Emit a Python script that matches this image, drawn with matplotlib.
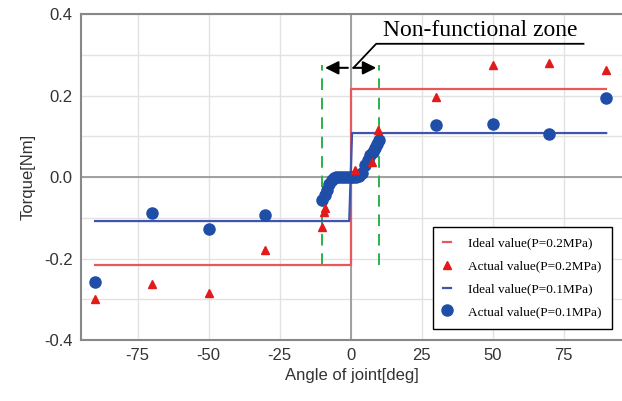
import matplotlib.pyplot as plt
import numpy as np

plt.rcParams["axes.unicode_minus"] = False
plt.rcParams["font.family"] = "Liberation Sans"

# ideal step lines
ideal_x_02 = [-90, 0, 0, 90]
ideal_y_02 = [-0.215, -0.215, 0.215, 0.215]
ideal_x_01 = [-90, -0.5, 0.5, 90]
ideal_y_01 = [-0.108, -0.108, 0.108, 0.108]

# measured points, P=0.2MPa
act_x_02 = [-90, -70, -50, -30, -10, -9.4, -9, 1.5, 7.5, 9.7, 30, 50, 70, 90]
act_y_02 = [-0.30, -0.263, -0.285, -0.18, -0.123, -0.086, -0.075, 0.017, 0.037, 0.115,
            0.196, 0.275, 0.28, 0.263]

# measured points, P=0.1MPa
act_x_01 = [-90, -70, -50, -30, -10, -9.2, -8.3, -7.5, -6.6, -6, -5, -4, -3, -2, -1,
            0, 1, 2, 3, 4, 5, 6, 6.8, 7.8, 8.5, 9.2, 10, 30, 50, 70, 90]
act_y_01 = [-0.258, -0.089, -0.128, -0.094, -0.056, -0.045, -0.032, -0.018, -0.007,
            -0.002, 0, 0, 0, 0, 0, 0, 0, 0, 0.002, 0.01, 0.03, 0.042, 0.054, 0.062,
            0.072, 0.08, 0.09, 0.128, 0.13, 0.105, 0.194]

zone = [-10, 10]

fig = plt.figure(figsize=(6.22, 4.01), dpi=100)
ax = fig.add_axes([0.130, 0.152, 0.872, 0.813])

ax.plot(ideal_x_02, ideal_y_02, color="#e8575a", lw=1.6, label="Ideal value(P=0.2MPa)", zorder=3)
ax.plot(act_x_02, act_y_02, "^", color="#e31a1c", ms=6, ls="none", label="Actual value(P=0.2MPa)", zorder=5)
ax.plot(ideal_x_01, ideal_y_01, color="#3d55b0", lw=1.6, label="Ideal value(P=0.1MPa)", zorder=3)
ax.plot(act_x_01, act_y_01, "o", color="#1f4ea8", ms=8, ls="none", label="Actual value(P=0.1MPa)", zorder=4)

for xz in zone:
    ax.plot([xz, xz], [-0.216, 0.275], color="#2bb24c", lw=1.4, ls=(0, (6, 4)), zorder=2)

for xz in zone:
    ax.annotate("", xy=(xz, 0.268), xytext=(0, 0.268),
                arrowprops=dict(arrowstyle="-|>", color="black", lw=1.5, mutation_scale=20))
ax.plot([1, 9, 82], [0.268, 0.327, 0.327], color="black", lw=1.3, zorder=6)
ax.text(45.5, 0.333, "Non-functional zone", family="Liberation Serif", fontsize=17,
        ha="center", va="bottom")

ax.axvline(0, color="#999999", lw=1.3, zorder=1)
ax.axhline(0, color="#999999", lw=1.3, zorder=1)

ax.set_xlim(-95, 96)
ax.set_ylim(-0.4, 0.4)
ax.set_xticks([-75, -50, -25, 0, 25, 50, 75])
ax.set_yticks(np.arange(-0.4, 0.41, 0.1))
ax.set_yticklabels(["-0.4", "", "-0.2", "", "0.0", "", "0.2", "", "0.4"])
ax.grid(True, color="#e2e2e2", lw=1)
ax.set_axisbelow(True)
ax.tick_params(length=0, labelsize=12, colors="#333333", pad=6)
for s in ax.spines.values():
    s.set_color("#888888")
    s.set_linewidth(1.5)
ax.spines["right"].set_visible(False)

ax.set_xlabel("Angle of joint[deg]", fontsize=12, color="#333333", labelpad=3)
ax.set_ylabel("Torque[Nm]", fontsize=12, color="#333333", labelpad=6)

leg = ax.legend(loc="lower right", bbox_to_anchor=(0.98, 0.035),
                prop={"family": "Liberation Serif", "size": 9.5},
                fancybox=False, edgecolor="black", framealpha=1, handlelength=0.6,
                borderpad=0.8, labelspacing=0.8, handletextpad=1.3, borderaxespad=0)
leg.get_frame().set_linewidth(1.0)

fig.savefig("out.png", dpi=100)
